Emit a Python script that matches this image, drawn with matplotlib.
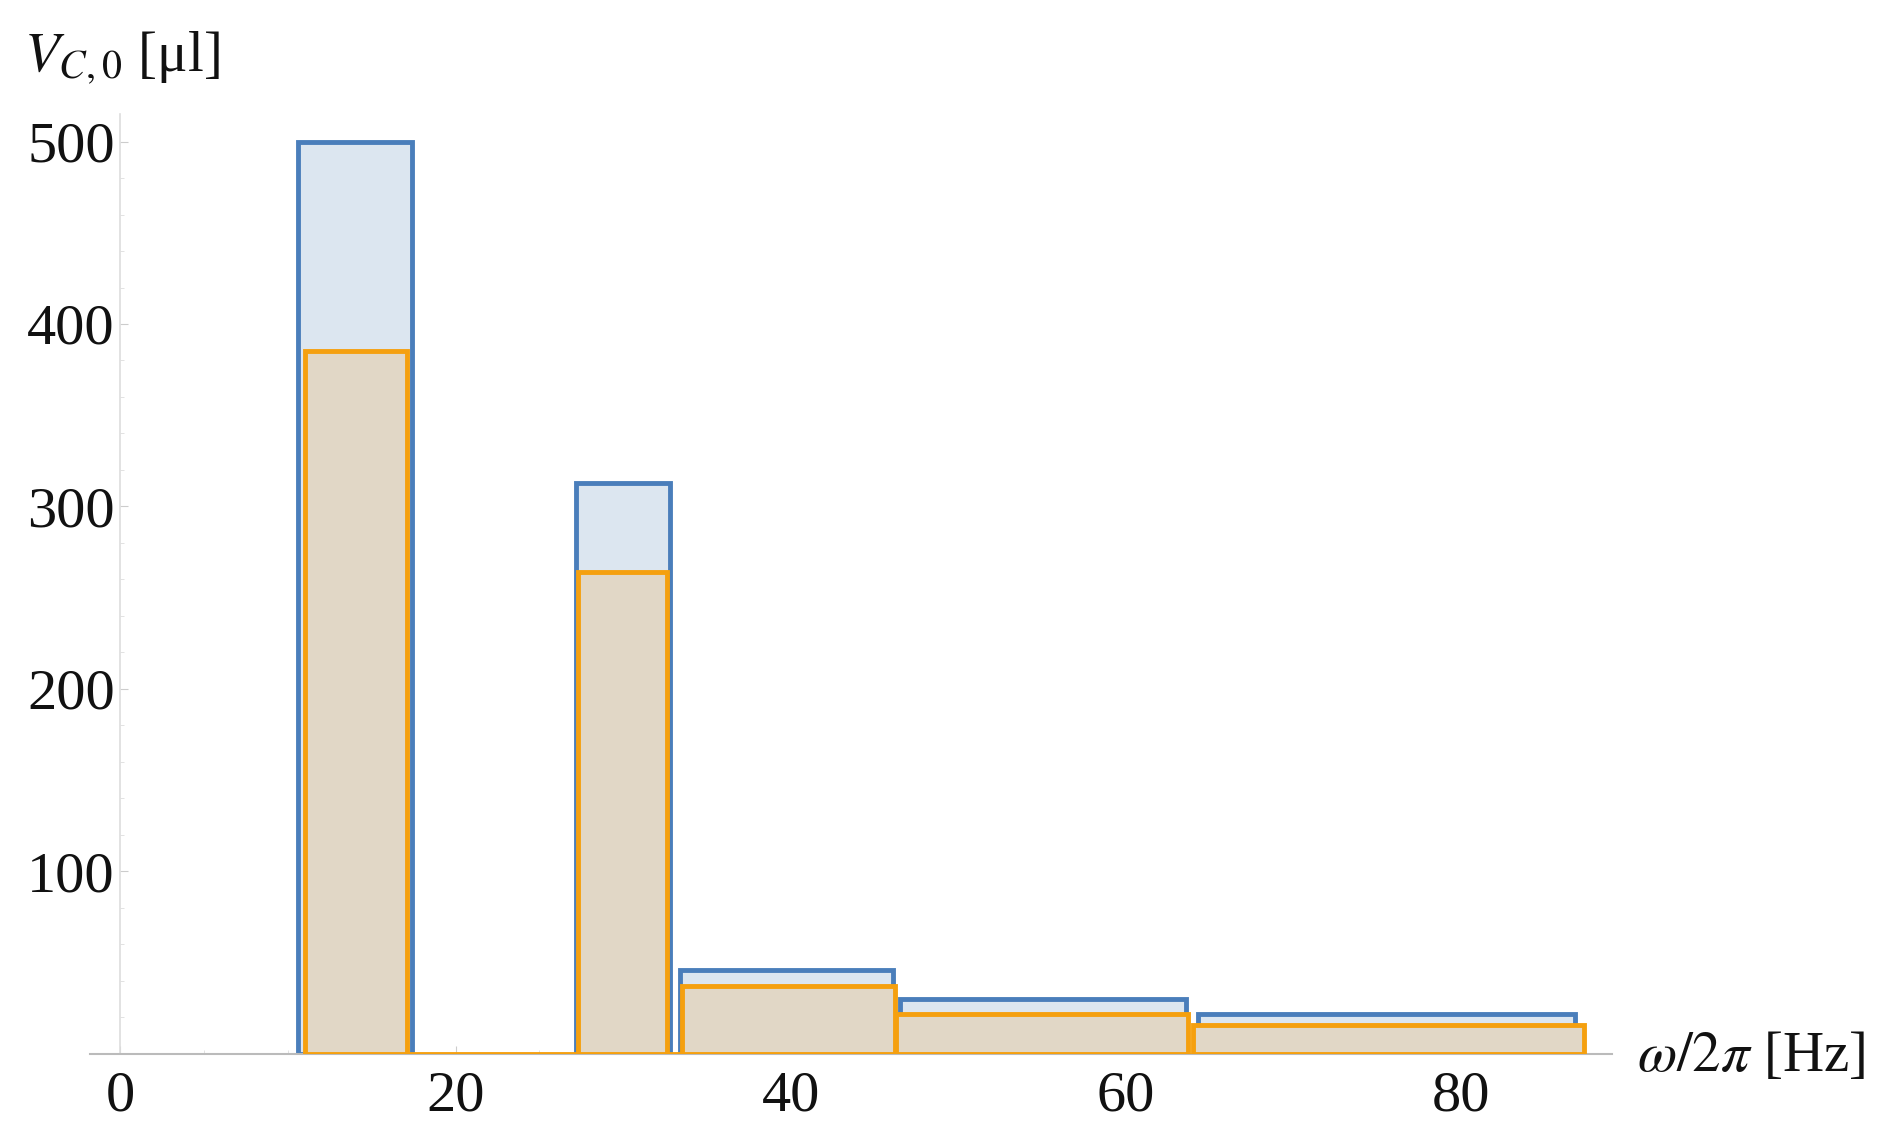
import matplotlib
matplotlib.use("Agg")
import matplotlib.pyplot as plt
from matplotlib.ticker import MultipleLocator

plt.rcParams['font.family'] = ['Liberation Serif', 'DejaVu Serif']
plt.rcParams['mathtext.fontset'] = 'stix'

# Blue series (bin edges left/right, heights)
blue_left = [10.6, 27.2, 33.4, 46.5, 64.3]
blue_right = [17.4, 32.8, 46.1, 63.6, 86.8]
blue_vals = [500, 313, 46, 30, 22]

# Orange series
orange_left = [11.0, 17.1, 27.3, 32.6, 33.5, 46.3, 64.0]
orange_right = [17.1, 27.2, 32.6, 33.5, 46.2, 63.7, 87.3]
orange_vals = [385, 0, 264, 0, 37, 22, 16]

xticks = [0, 20, 40, 60, 80]
yticks = [100, 200, 300, 400, 500]

fig = plt.figure(figsize=(18.84, 11.43), dpi=100)
ax = fig.add_axes([0.0478, 0.0781, 0.808, 0.822])

bw = [r - l for l, r in zip(blue_left, blue_right)]
ow = [r - l for l, r in zip(orange_left, orange_right)]
ax.bar(blue_left, blue_vals, width=bw, align='edge', color='#dce6f0',
       edgecolor='#4a7ebb', linewidth=3.5, zorder=2)
ax.bar(orange_left, orange_vals, width=ow, align='edge', color='#e1d7c6',
       edgecolor='#f5a00f', linewidth=3.5, zorder=3)

ax.set_xlim(-1.8, 89)
ax.set_ylim(0, 515)
ax.spines['top'].set_visible(False)
ax.spines['right'].set_visible(False)
ax.spines['left'].set_position(('data', 0))
ax.spines['left'].set_color('#dddddd')
ax.spines['bottom'].set_color('#bbbbbb')
ax.spines['left'].set_linewidth(1.2)
ax.spines['bottom'].set_linewidth(1.5)

ax.set_xticks(xticks)
ax.set_yticks(yticks)
ax.xaxis.set_minor_locator(MultipleLocator(5))
ax.yaxis.set_minor_locator(MultipleLocator(20))
ax.tick_params(axis='both', which='major', direction='in', length=6,
               color='#cccccc', labelsize=42, labelcolor='#111111')
ax.tick_params(axis='both', which='minor', direction='in', length=3,
               color='#dddddd')
ax.tick_params(axis='x', pad=12)
ax.tick_params(axis='y', pad=4)

fig.text(0.013, 0.950, r'$V_{C,0}$ [μl]', fontsize=41, color='#111111',
         va='center', ha='left')
fig.text(0.869, 0.075, r'$\omega/2\pi$ [Hz]', fontsize=41, color='#111111',
         va='center', ha='left')

fig.savefig('out.png', dpi=100)
